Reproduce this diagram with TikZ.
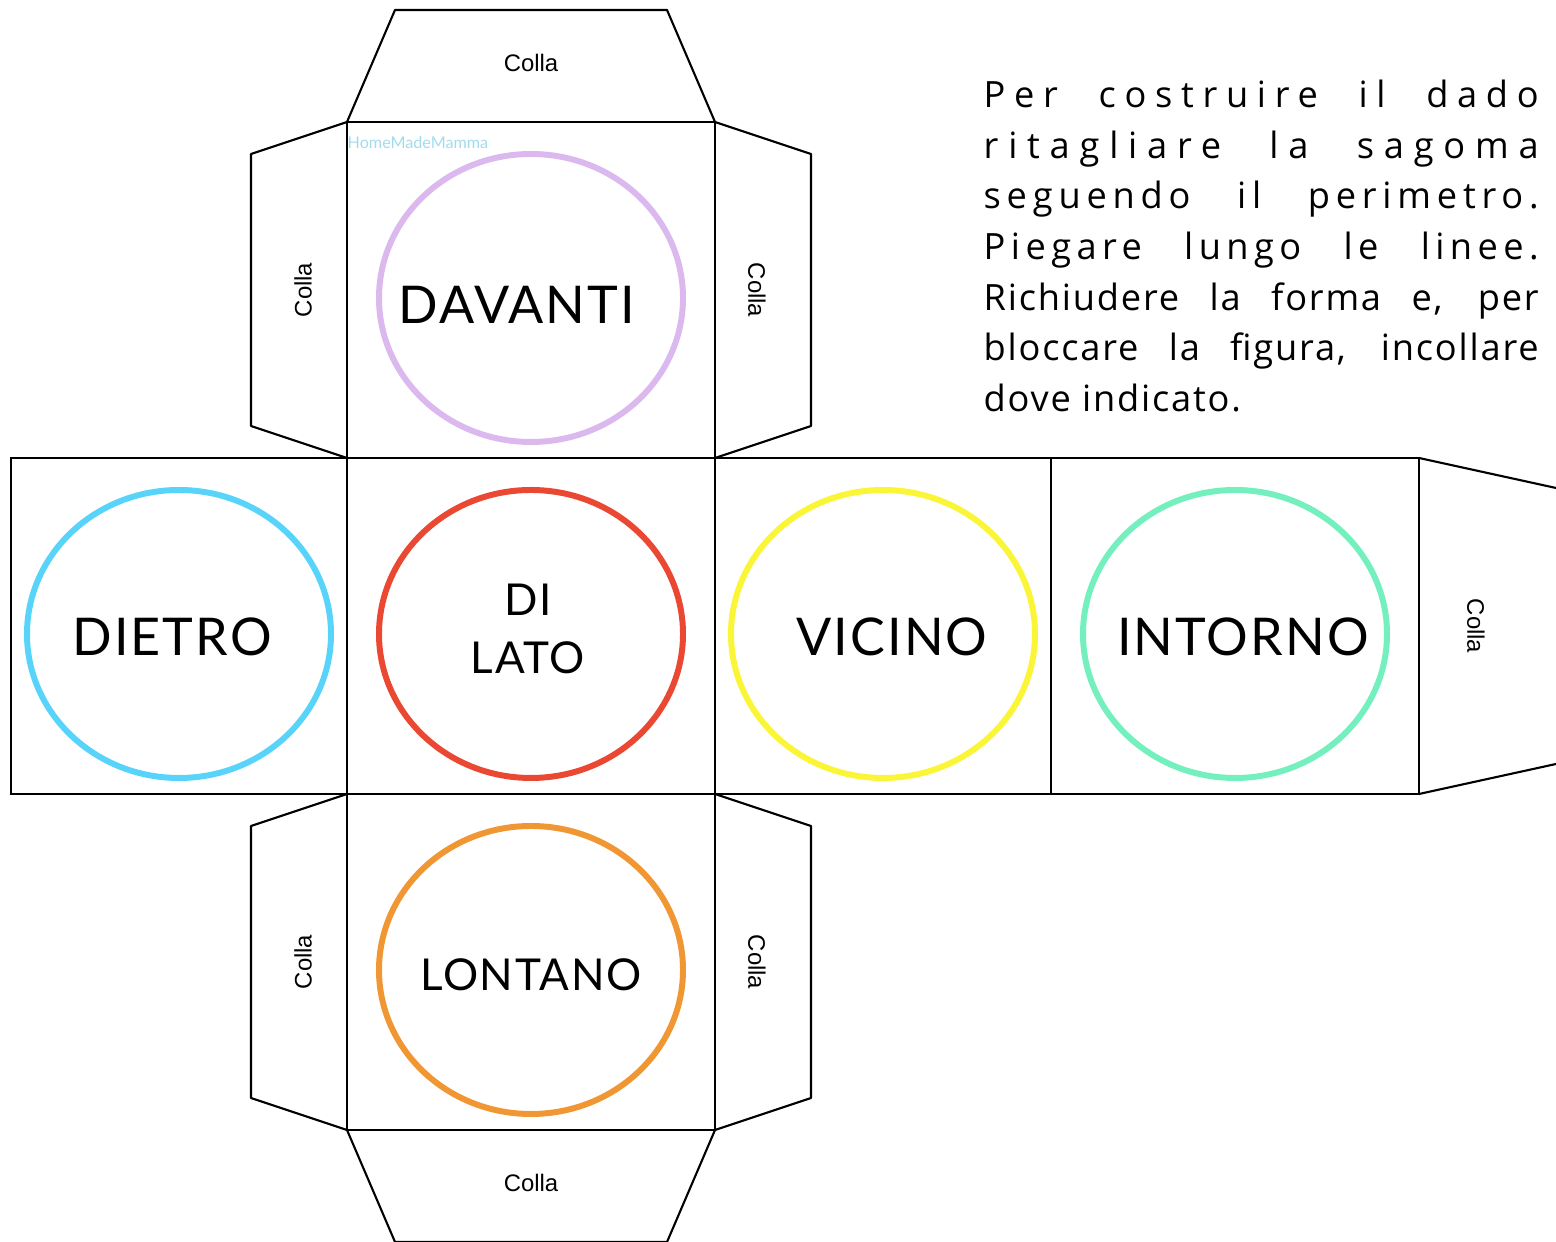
\documentclass[tikz,border=0pt]{standalone}
\usepackage{xcolor}
\usepackage{fontspec}
\usepackage{tikz}
\usetikzlibrary{shapes}
\usetikzlibrary{positioning}

\setsansfont{Liberation Sans}
\newfontfamily\facefont{Lato}[LetterSpace=4]
\newfontfamily\markfont{Lato}
\newfontfamily\notefont{Open Sans}

\definecolor{lavender}{RGB}{219,185,239}
\definecolor{skyblue}{RGB}{88,212,250}
\definecolor{tomato}{RGB}{234,72,50}
\definecolor{lemon}{RGB}{250,245,55}
\definecolor{mint}{RGB}{115,240,190}
\definecolor{tangerine}{RGB}{240,150,50}
\definecolor{markblue}{RGB}{160,220,236}

% one justified line of the instructions, #1 = extra letter spacing
\newcommand{\noteline}[2]{\makebox[5.55cm][s]{\notefont\addfontfeature{LetterSpace=#1}\fontsize{10.3}{14}\selectfont #2}}

\begin{document}
\begin{tikzpicture} [
            % ----- Node definitions ----- %
            facenode/.style = {
                    draw,
                rectangle,
                minimum width = #1,
                minimum height = 3.36cm,
                inner sep = 0pt,
                outer sep = 0pt,
                line width = 0.6pt
            },
            ringnode/.style = {
                draw = #1,
                ellipse,
                minimum width = 3.04cm,
                minimum height = 2.88cm,
                line width = 1.7pt
            },
            wordnode/.style = {
                align = center,
                inner sep = 0pt,
                font = \facefont\fontsize{#1}{16.5}\selectfont
            },
            wordnode/.default = 14.8,
            collanode/.style = {
                inner sep = 0pt,
                font = \sffamily\fontsize{6.8}{8}\selectfont
            },
            notenode/.style = {
                anchor = base west,
                inner sep = 0pt
            },
            tabline/.style = {line width = 0.6pt, line join = round},
    ]

            % ----- Canvas ----- %
        \useasboundingbox (0,0) rectangle (15.56,12.42);

            % ----- Faces ----- %
        \node [facenode=3.68cm] (lato) at (5.31,6.16) {};
        \node [facenode=3.68cm, above=0pt of lato] (davanti) {};
        \node [facenode=3.68cm, below=0pt of lato] (lontano) {};
        \node [facenode=3.36cm, left=0pt of lato] (dietro) {};
        \node [facenode=3.36cm, right=0pt of lato] (vicino) {};
        \node [facenode=3.68cm, right=0pt of vicino] (intorno) {};

            % ----- Glue tabs ----- %
        \draw [tabline] (davanti.north west) -- ++(0.48,1.12) -- ++(2.72,0) -- (davanti.north east);
        \draw [tabline] (lontano.south west) -- ++(0.48,-1.12) -- ++(2.72,0) -- (lontano.south east);
        \foreach \f in {davanti,lontano} {
            \draw [tabline] (\f.north west) -- ++(-0.96,-0.32) -- ++(0,-2.72) -- (\f.south west);
            \draw [tabline] (\f.north east) -- ++(0.96,-0.32) -- ++(0,-2.72) -- (\f.south east);
        }
        \draw [tabline] (intorno.north east) -- ++(1.37,-0.30);
        \draw [tabline] (intorno.south east) -- ++(1.37,0.30);

        \node [collanode] (collatop) at (5.31,11.79) {Colla};
        \node [collanode] (collabottom) at (5.31,0.59) {Colla};
        \node [collanode, rotate=90] (collaul) at (3.03,9.52) {Colla};
        \node [collanode, rotate=-90] (collaur) at (7.57,9.52) {Colla};
        \node [collanode, rotate=90] (collall) at (3.03,2.80) {Colla};
        \node [collanode, rotate=-90] (collalr) at (7.57,2.80) {Colla};
        \node [collanode, rotate=-90] (collaend) at (14.76,6.16) {Colla};

            % ----- Rings and words ----- %
        \node [ringnode=lavender] (ringdavanti) at (5.31,9.44) {};
        \node [ringnode=skyblue] (ringdietro) at (1.79,6.08) {};
        \node [ringnode=tomato] (ringlato) at (5.31,6.08) {};
        \node [ringnode=lemon] (ringvicino) at (8.83,6.08) {};
        \node [ringnode=mint] (ringintorno) at (12.35,6.08) {};
        \node [ringnode=tangerine] (ringlontano) at (5.31,2.72) {};

        \node [wordnode] (wdavanti) at (5.17,9.37) {DAVANTI};
        \node [wordnode] (wdietro) at (1.72,6.05) {DIETRO};
        \node [wordnode=12.5] (wlato) at (5.28,6.13) {DI\\LATO};
        \node [wordnode] (wvicino) at (8.92,6.05) {VICINO};
        \node [wordnode] (wintorno) at (12.43,6.05) {INTORNO};
        \node [wordnode=12.5] (wlontano) at (5.31,2.67) {LONTANO};

        \node [anchor=west, inner sep=0pt, text=markblue, font=\markfont\fontsize{4.6}{5}\selectfont] (mark) at (3.47,10.99) {HomeMadeMamma};

            % ----- Instructions ----- %
        \node [notenode] (note1) at (9.83,11.34) {\noteline{24}{Per costruire il dado}};
        \node [notenode] (note2) at (9.83,10.83) {\noteline{27}{ritagliare la sagoma}};
        \node [notenode] (note3) at (9.83,10.33) {\noteline{16}{seguendo il perimetro.}};
        \node [notenode] (note4) at (9.83,9.82) {\noteline{15}{Piegare lungo le linee.}};
        \node [notenode] (note5) at (9.83,9.31) {\noteline{5}{Richiudere la forma e, per}};
        \node [notenode] (note6) at (9.83,8.81) {\noteline{5}{bloccare la figura, incollare}};
        \node [notenode] (note7) at (9.83,8.30) {\notefont\addfontfeature{LetterSpace=5}\fontsize{10.3}{14}\selectfont dove indicato.};

\end{tikzpicture}
\end{document}
